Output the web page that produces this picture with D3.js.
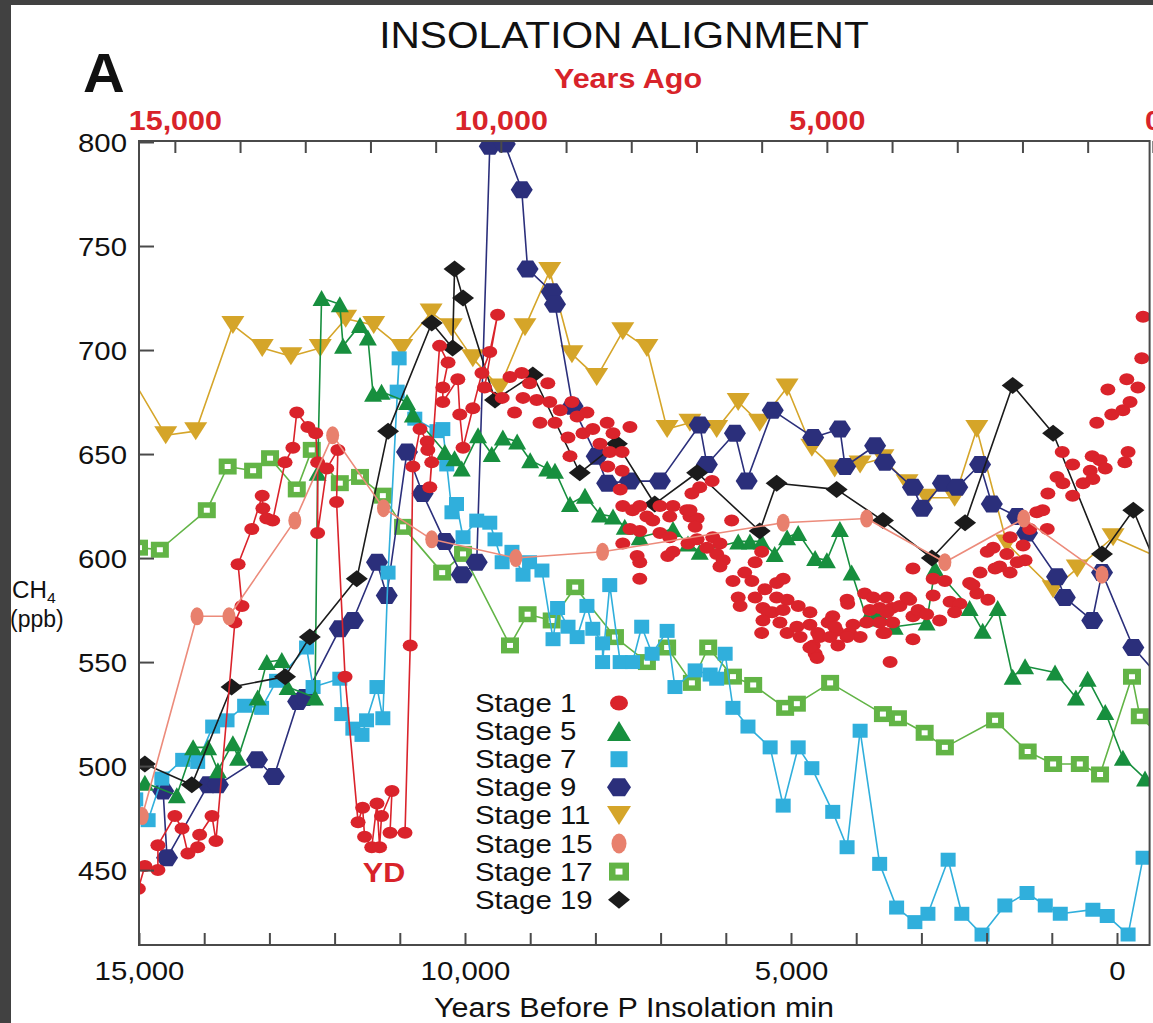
<!DOCTYPE html>
<html>
<head>
<meta charset="utf-8">
<script src="https://cdn.jsdelivr.net/npm/d3@7"></script>
<style>
  body { margin: 0; background: #404040; }
  svg { display: block; }
</style>
</head>
<body>
<svg id="chart" width="1153" height="1023"></svg>
<script>
// CH4 records of past interglacials aligned on the precession insolation minimum.
// Each point: [years before P insolation min, CH4 ppb]

// Stage 1: deglaciation (connected) and Holocene (points only)
const stage1Deglacial = [
  [15010,441],[14910,452],[14710,450],[14710,462],[14450,476],[14340,470],[14250,458],[14100,461],
  [14070,467],[13880,476],[13820,464],[13530,569],[13420,577],[13480,597],[13270,614],[13110,630],
  [13100,624],[13040,619],[12950,618],[12760,646],[12640,653],[12580,670],[12410,663],[12290,660],
  [12260,646],[12260,612],[12120,643],[11950,652],[11970,627],[11840,543],[11640,473],[11570,480],
  [11540,466],[11430,461],[11350,482],[11310,461],[11280,476],[11120,488],[11150,468],[10920,468],
  [10840,558],[10800,644],[10690,662],[10580,656],[10570,652],[10510,646],[10540,634],[10390,702],
  [10260,694],[10340,682],[10340,675],[10110,686],[10080,669],[10030,653],[9880,672],[9740,689],
  [9620,699],[9500,717],[9700,682],[9430,677]
];
const stage1Holocene = [
  [9310,687],[9130,689],[9010,684],[8730,684],[9110,677],[8900,676],[8700,675],[9240,670],[8540,671],
  [8360,675],[8280,668],[8130,670],[8620,665],[7820,665],[7470,663],[8850,665],[8420,658],[8190,660],
  [8040,662],[7730,660],[7930,655],[8390,649],[7780,651],[7590,651],[7810,644],[7590,642],[7620,633],
  [7580,625],[7430,623],[7320,625],[7210,620],[7010,625],[6810,625],[7120,618],[6860,620],[6600,623],
  [6550,620],[7470,614],[7320,613],[7010,612],[6860,610],[7580,607],[7360,601],[7320,598],[6890,601],
  [6810,603],[7320,590],[6440,619],[6580,607],[6440,609],[6400,634],[6210,637],[6520,631],[6550,623],
  [6470,615],[6200,610],[6090,607],[5910,618],[6290,605],[6140,602],[6040,599],[6090,596],[5450,603],
  [5550,598],[5710,593],[5890,589],[5600,589],[5810,581],[5550,581],[5780,577],[5400,585],[5220,588],
  [5120,590],[5220,581],[5060,580],[5430,576],[5290,574],[5120,575],[4890,577],[4710,574],[5450,564],
  [5170,569],[5060,564],[4910,567],[4860,562],[4590,564],[4660,558],[4630,554],[4430,569],[4360,572],
  [4140,580],[4300,565],[4100,564],[3940,562],[3870,583],[3740,581],[3640,576],[3840,569],[3640,569],
  [3560,564],[3450,576],[3330,577],[3180,580],[3130,595],[3130,561],[3480,550],[3130,572],[5350,574],
  [5430,570],[4710,568],[4560,562],[4710,557],[4600,552],[4400,562],[4330,567],[4140,562],[4280,558],
  [4050,568],[4130,578],[3790,575],[2820,590],[2640,589],[2820,582],[3220,581],[3020,574],[2560,579],
  [2410,578],[2260,588],[2100,593],[1990,603],[1900,605],[1690,602],[1640,610],[1440,606],[1410,599],
  [1800,596],[1640,593],[1980,580],[2150,583],[3530,581],[3530,574],[3440,569],[3590,564],[3050,575],
  [2920,573],[2720,570],[2490,574],[2210,587],[1870,595],[1530,598],[1340,614],[1230,622],[1070,614],
  [1060,631],[1140,623],[920,639],[830,636],[680,630],[680,645],[520,636],[410,642],[380,649],[260,647],
  [180,643],[370,638],[840,651],[310,665],[80,669],[-90,671],[-200,675],[140,681],[-150,686],[-320,682],
  [-120,646],[-170,651],[-380,696],[-400,716]
];

const stage5 = [
  [14910,492],[14420,486],[14170,509],[13940,509],[13790,498],[13560,511],[13480,504],[13180,533],
  [13040,550],[12810,551],[12720,538],[12300,533],[12260,641],[12200,725],[11920,722],[11870,702],
  [11610,712],[11490,706],[11410,679],[11280,680],[10890,675],[10800,669],[10310,651],[10160,648],
  [10050,643],[9800,659],[9590,650],[9420,658],[9200,656],[9000,647],[8740,643],[8620,642],[8390,626],
  [8160,630],[7930,621],[7730,620],[7550,615],[7320,610],[6810,614],[6580,607],[6400,603],[5810,608],
  [5630,608],[5450,608],[5250,602],[5060,610],[4890,612],[4630,600],[4450,599],[4250,614],[4070,593],
  [3840,571],[3670,574],[3410,567],[2920,569],[2790,595],[2260,576],[2060,565],[1830,576],[1600,543],
  [1410,548],[950,545],[630,533],[450,542],[180,526],[-90,504],[-430,494]
];

const stage7 = [
  [15050,484],[14860,474],[14650,494],[14330,503],[14100,502],[13870,519],[13650,522],[13380,529],
  [13120,528],[12890,541],[12430,557],[12330,538],[11920,542],[11890,525],[11720,518],[11580,515],
  [11510,522],[11350,538],[11260,523],[11180,593],[11010,696],[11040,680],[10770,667],[10430,661],
  [10340,662],[10280,645],[10200,622],[10130,626],[10030,610],[9820,618],[9620,617],[9540,609],
  [9430,598],[9280,603],[9110,592],[9010,598],[8820,594],[8650,561],[8580,576],[8420,567],[8280,562],
  [8130,577],[8040,566],[7890,559],[7890,550],[7780,587],[7620,550],[7430,550],[7290,567],[7130,554],
  [6900,565],[6780,538],[6470,546],[6240,544],[6140,542],[6010,554],[5890,528],[5660,519],[5320,509],
  [5120,481],[4890,509],[4680,499],[4360,478],[4140,461],[3940,517],[3640,453],[3380,432],[3100,425],
  [2900,429],[2590,455],[2380,429],[2070,419],[1720,433],[1380,439],[1100,433],[870,429],[370,431],
  [150,428],[-170,419],[-400,456]
];

const stage9 = [
  [14630,488],[14570,456],[13940,491],[13790,491],[13190,503],[12930,495],[12560,531],[12460,533],
  [11920,566],[11720,570],[11350,598],[11200,582],[10890,651],[10650,631],[10310,608],[10050,592],
  [9820,598],[9620,798],[9390,799],[9130,777],[9040,739],[8670,728],[8620,722],[8350,673],[7980,649],
  [7820,636],[7470,637],[7010,637],[6400,664],[6290,645],[5860,660],[5680,637],[5280,671],[4660,658],
  [4250,662],[4170,644],[3710,654],[3560,646],[3130,634],[2990,624],[2670,636],[2450,634],[2100,645],
  [1920,626],[1530,620],[1380,612],[920,591],[800,581],[380,570],[230,593],[-250,557],[-810,537]
];

const stage11 = [
  [15400,702],[14590,659],[14130,661],[13560,712],[13110,701],[12670,697],[12220,701],[11830,715],
  [11400,712],[10970,701],[10520,718],[10210,711],[9880,696],[9470,682],[9080,711],[8700,738],
  [8360,698],[7980,687],[7580,709],[7210,701],[6900,662],[6550,665],[6140,662],[5810,675],[5480,665],
  [5060,682],[4680,653],[4330,643],[3940,645],[3590,648],[3220,636],[2920,629],[2490,629],[2150,662],
  [1690,607],[980,585],[610,595],[60,610],[-950,596]
];

const stage15 = [
  [14950,476],[14110,572],[13620,572],[12610,618],[12030,659],[11250,624],[10510,609],[9220,600],
  [7890,603],[5120,617],[3840,619],[2640,598],[1430,619],[230,592]
];

const stage17 = [
  [15000,605],[14680,604],[13960,623],[13640,644],[13250,642],[12990,648],[12580,633],[12350,652],
  [11920,636],[11610,639],[11260,630],[10950,615],[10350,593],[10030,602],[9310,558],[9040,573],
  [8670,570],[8310,586],[7700,562],[7210,550],[6900,557],[6520,540],[6270,557],[5890,543],[5580,539],
  [5090,528],[4910,530],[4400,540],[3590,525],[3360,523],[2950,516],[2640,509],[1870,522],[1370,507],
  [980,501],[570,501],[260,496],[-230,543],[-350,524],[-810,510]
];

const stage19 = [
  [14910,501],[14190,491],[13580,538],[12760,543],[12380,562],[11660,590],[11180,661],[10510,713],
  [10190,701],[10160,739],[10030,725],[9540,676],[8960,688],[8240,641],[7670,655],[7090,626],
  [6440,641],[5480,613],[5220,636],[4300,633],[3590,618],[2840,600],[2330,617],[1600,683],[980,660],
  [230,602],[-250,623],[-810,581]
];

// Axis ticks and labels
const bottomTicks = d3.range(15000, -1, -1000);
const bottomLabels = [15000, 10000, 5000, 0];
const yTicks = [450, 500, 550, 600, 650, 700, 750, 800];
const agoTicks = d3.range(15000, -1, -1000);
const agoLabels = [15000, 10000, 5000, 0];
const agoOffset = 550;   // calendar age minus insolation-aligned age
const legendLabels = ["Stage 1", "Stage 5", "Stage 7", "Stage 9", "Stage 11", "Stage 15", "Stage 17", "Stage 19"];

// ---------------------------------------------------------------------------
const FONT = '"Liberation Sans", Arial, Helvetica, sans-serif';
const SX = 1.13;
const AXIS = '#4a4a4a';
const W = 1153, H = 1023;
const plot = { left: 139, right: 1149.6, top: 142, bottom: 945 };

const svg = d3.select('#chart');
svg.append('rect').attr('width', W).attr('height', H).attr('fill', '#414141');
svg.append('rect').attr('x', 11).attr('y', 5).attr('width', W - 11).attr('height', H - 5).attr('fill', '#ffffff');

const x = d3.scaleLinear().domain([15000, -500]).range([plot.left, plot.right]);
const xAgo = d3.scaleLinear().domain([15000 + agoOffset, -500 + agoOffset]).range([plot.left, plot.right]);
const y = d3.scaleLinear().domain([414, 800]).range([plot.bottom, plot.top]);

function txt(px, py, str, size, opts = {}) {
  return svg.append('text')
    .attr('transform', `translate(${px},${py}) scale(${opts.sx ?? SX},1)`)
    .attr('text-anchor', opts.anchor || 'middle')
    .attr('font-family', FONT)
    .attr('font-size', size)
    .attr('font-weight', opts.weight || 'normal')
    .attr('fill', opts.color || '#111')
    .text(str);
}

// Marker shapes, centred on the origin
const shapes = {
  dot: (w, h) => `M${-w/2},0A${w/2},${h/2} 0 1,0 ${w/2},0A${w/2},${h/2} 0 1,0 ${-w/2},0Z`,
  triUp: (w, h) => `M0,${-h/2}L${w/2},${h/2}L${-w/2},${h/2}Z`,
  triDown: (w, h) => `M${-w/2},${-h/2}L${w/2},${-h/2}L0,${h/2}Z`,
  square: (w, h) => `M${-w/2},${-h/2}h${w}v${h}h${-w}Z`,
  hexagon: (w, h) => `M${-w/2},0L${-w/4},${-h/2}L${w/4},${-h/2}L${w/2},0L${w/4},${h/2}L${-w/4},${h/2}Z`,
  diamond: (w, h) => `M0,${-h/2}L${w/2},0L0,${h/2}L${-w/2},0Z`
};

const series = [
  { name: 'Stage 17', data: stage17, color: '#62b446', shape: 'square', w: 18, h: 16, hollow: [6, 5], line: true },
  { name: 'Stage 11', data: stage11, color: '#d5a529', shape: 'triDown', w: 23, h: 18, line: true },
  { name: 'Stage 9',  data: stage9,  color: '#2b2f7b', shape: 'hexagon', w: 22, h: 17, line: true },
  { name: 'Stage 7',  data: stage7,  color: '#30afdc', shape: 'square', w: 15, h: 14, line: true },
  { name: 'Stage 5',  data: stage5,  color: '#178f3e', shape: 'triUp', w: 18, h: 16, line: true },
  { name: 'Stage 19', data: stage19, color: '#1b1b1b', shape: 'diamond', w: 22, h: 17, line: true },
  { name: 'Stage 1',  data: stage1Deglacial, color: '#da232b', shape: 'dot', w: 15, h: 12, line: true },
  { name: 'Stage 1',  data: stage1Holocene,  color: '#da232b', shape: 'dot', w: 15, h: 12, line: false },
  { name: 'Stage 15', data: stage15, color: '#e8806d', lineColor: '#ec8b7b', shape: 'dot', w: 13, h: 18, line: true }
];

// Data layer, clipped to the frame
svg.append('clipPath').attr('id', 'plotClip')
  .append('rect').attr('x', plot.left).attr('y', plot.top)
  .attr('width', plot.right - plot.left).attr('height', plot.bottom - plot.top);
const dataG = svg.append('g').attr('clip-path', 'url(#plotClip)');

const lineGen = d3.line().x(d => x(d[0])).y(d => y(d[1]));

series.forEach(s => {
  const g = dataG.append('g');
  if (s.line) {
    g.append('path').datum(s.data)
      .attr('fill', 'none')
      .attr('stroke', s.lineColor || s.color)
      .attr('stroke-width', 1.6)
      .attr('stroke-linejoin', 'round')
      .attr('d', lineGen);
  }
  g.selectAll('path.mk').data(s.data).join('path')
    .attr('class', 'mk')
    .attr('transform', d => `translate(${x(d[0])},${y(d[1])})`)
    .attr('d', shapes[s.shape](s.w, s.h))
    .attr('fill', s.color);
  if (s.hollow) {
    g.selectAll('path.hole').data(s.data).join('path')
      .attr('class', 'hole')
      .attr('transform', d => `translate(${x(d[0])},${y(d[1])})`)
      .attr('d', shapes.square(s.hollow[0], s.hollow[1]))
      .attr('fill', '#ffffff');
  }
});

// Frame
svg.append('rect')
  .attr('x', plot.left).attr('y', plot.top - 1)
  .attr('width', plot.right - plot.left).attr('height', plot.bottom - plot.top + 1)
  .attr('fill', 'none').attr('stroke', AXIS).attr('stroke-width', 2);

// Bottom axis: years before P insolation minimum
const gB = svg.append('g').attr('transform', `translate(0,${plot.bottom})`)
  .call(d3.axisBottom(x).tickValues(bottomTicks).tickSize(-12).tickSizeOuter(0)
    .tickFormat(d => bottomLabels.includes(d) ? d3.format(',')(d) : ''));
gB.select('.domain').remove();
gB.selectAll('line').attr('stroke', AXIS).attr('stroke-width', 2);
gB.selectAll('text').attr('y', 35).attr('dy', 0)
  .attr('font-size', 26).attr('font-family', FONT).attr('fill', '#111')
  .attr('transform', `scale(${SX},1)`);

// Top axis: years ago
const gT = svg.append('g').attr('transform', `translate(0,${plot.top - 1})`)
  .call(d3.axisTop(xAgo).tickValues(agoTicks).tickSize(-12).tickSizeOuter(0)
    .tickFormat(d => agoLabels.includes(d) ? d3.format(',')(d) : ''));
gT.select('.domain').remove();
gT.selectAll('line').attr('stroke', AXIS).attr('stroke-width', 2);
gT.selectAll('text').attr('y', -11).attr('dy', 0)
  .attr('font-size', 27).attr('font-weight', 'bold').attr('font-family', FONT).attr('fill', '#d8232a')
  .attr('transform', `scale(${SX},1)`);

// Left axis: CH4
const gL = svg.append('g').attr('transform', `translate(${plot.left},0)`)
  .call(d3.axisLeft(y).tickValues(yTicks).tickSize(-15).tickSizeOuter(0));
gL.select('.domain').remove();
gL.selectAll('line').attr('stroke', AXIS).attr('stroke-width', 2);
gL.selectAll('text').attr('x', -12 / SX).attr('dy', '0.36em')
  .attr('font-size', 26).attr('font-family', FONT).attr('fill', '#111')
  .attr('transform', `scale(${SX},1)`);

// Titles
txt(624, 48, 'INSOLATION ALIGNMENT', 36);
txt(83, 92, 'A', 55, { anchor: 'start', weight: 'bold', sx: 1.05 });
txt(628, 88, 'Years Ago', 27, { weight: 'bold', color: '#d8232a' });
txt(634, 1017, 'Years Before P Insolation min', 27);
txt(384, 882, 'YD', 27, { weight: 'bold', color: '#d8232a' });

const ch4 = svg.append('text')
  .attr('transform', 'translate(12,598) scale(1.05,1)')
  .attr('font-family', FONT).attr('font-size', 23).attr('fill', '#111');
ch4.append('tspan').text('CH');
ch4.append('tspan').attr('font-size', 15).attr('dy', 5).text('4');
txt(10, 627, '(ppb)', 23, { anchor: 'start', sx: 1.0 });

// Legend
const legendSpec = [
  { shape: 'dot', color: '#da232b', w: 18, h: 15 },
  { shape: 'triUp', color: '#178f3e', w: 24, h: 20 },
  { shape: 'square', color: '#30afdc', w: 17, h: 16 },
  { shape: 'hexagon', color: '#2b2f7b', w: 24, h: 18 },
  { shape: 'triDown', color: '#d5a529', w: 24, h: 19 },
  { shape: 'dot', color: '#e8806d', w: 15, h: 20 },
  { shape: 'square', color: '#62b446', w: 20, h: 18, hollow: [7, 6] },
  { shape: 'diamond', color: '#1b1b1b', w: 22, h: 18 }
];
legendLabels.forEach((label, i) => {
  const by = 712 + i * 28.1;
  txt(475, by, label, 26, { anchor: 'start' });
  const m = legendSpec[i];
  svg.append('path')
    .attr('transform', `translate(619,${by - 9})`)
    .attr('d', shapes[m.shape](m.w, m.h))
    .attr('fill', m.color);
  if (m.hollow) {
    svg.append('path')
      .attr('transform', `translate(619,${by - 9})`)
      .attr('d', shapes.square(m.hollow[0], m.hollow[1]))
      .attr('fill', '#ffffff');
  }
});
</script>
</body>
</html>
